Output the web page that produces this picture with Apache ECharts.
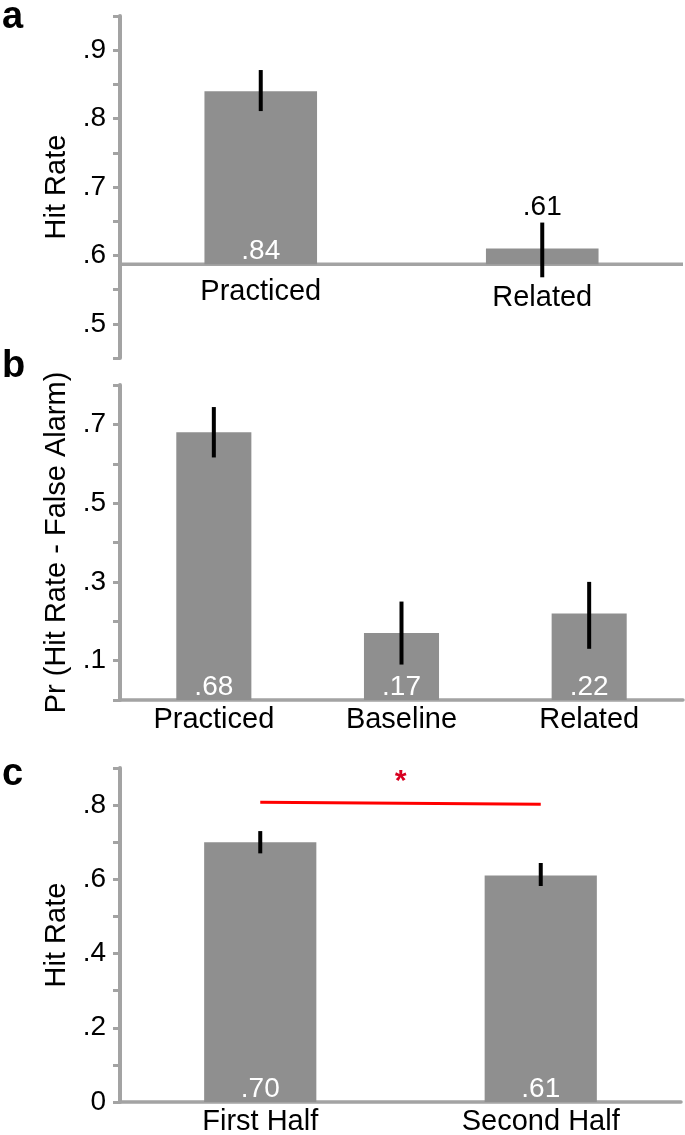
<!DOCTYPE html>
<html>
<head>
<meta charset="utf-8">
<script src="https://cdn.jsdelivr.net/npm/echarts@6/dist/echarts.min.js"></script>
<style>
html,body{margin:0;padding:0;background:#fff;}
#chart{width:685px;height:1135px;}
</style>
</head>
<body>
<div id="chart"></div>
<script>
// ---- Data ----
// Panel a
const catsA = ['Practiced', 'Related'];
const valsA = [0.84, 0.61];
const errHiA = [0.871, 0.648];
const errLoA = [0.811, 0.568];
const baseA = 0.587;
const yRangeA = [0.45, 0.95, 0.05];
// Panel b
const catsB = ['Practiced', 'Baseline', 'Related'];
const valsB = [0.68, 0.17, 0.22];
const errHiB = [0.744, 0.25, 0.30];
const errLoB = [0.616, 0.09, 0.13];
const yRangeB = [0, 0.8, 0.1];
// Panel c
const catsC = ['First Half', 'Second Half'];
const valsC = [0.70, 0.61];
const errHiC = [0.73, 0.644];
const errLoC = [0.67, 0.582];
const yRangeC = [0, 0.9, 0.1];
const sigLineC = [0.808, 0.802];
const sigMark = '*';
const panelLetters = ['a', 'b', 'c'];
const yNames = ['Hit Rate', 'Pr (Hit Rate - False Alarm)', 'Hit Rate'];

// ---- Styles ----
const FONT = "'Liberation Sans', Arial, Helvetica, sans-serif";
const axisGrey = '#a3a3a3';
const barGrey = '#8f8f8f';
const TICK_FS = 28, CAT_FS = 29, NAME_FS = 29, VAL_FS = 28;

function fmtVal(v) {
  return '.' + String(Math.round(v * 100)).padStart(2, '0');
}

function makeRender(base, drawBaseline) {
  return function (params, api) {
    const i = api.value(0), v = api.value(1), lo = api.value(2), hi = api.value(3);
    const top = api.coord([i, v]);
    const bot = api.coord([i, base]);
    const w = api.size([1, 0])[0] * 0.4;
    const eh = api.coord([i, hi]);
    const el = api.coord([i, lo]);
    const children = [];
    if (drawBaseline && params.dataIndex === 0) {
      const cs = params.coordSys;
      children.push({
        type: 'line',
        shape: { x1: cs.x, y1: bot[1], x2: cs.x + cs.width, y2: bot[1] },
        style: { stroke: axisGrey, lineWidth: 3.5 }
      });
    }
    children.push({
      type: 'rect',
      shape: { x: top[0] - w / 2, y: top[1], width: w, height: bot[1] - top[1] },
      style: { fill: barGrey }
    });
    children.push({
      type: 'line',
      shape: { x1: eh[0], y1: eh[1], x2: el[0], y2: el[1] },
      style: { stroke: '#000', lineWidth: 4 }
    });
    const inside = (bot[1] - top[1]) > 40;
    children.push({
      type: 'text',
      x: top[0],
      y: inside ? bot[1] + 1 : eh[1] - 1,
      style: {
        text: fmtVal(v),
        fill: inside ? '#fff' : '#000',
        fontSize: VAL_FS,
        fontFamily: FONT,
        align: 'center',
        verticalAlign: 'bottom'
      }
    });
    return { type: 'group', children: children };
  };
}

function yAxisFor(gridIndex, range, name, showFn) {
  return {
    type: 'value',
    gridIndex: gridIndex,
    min: range[0], max: range[1], interval: range[2],
    name: name,
    nameLocation: 'middle',
    nameGap: 49,
    nameTextStyle: { fontSize: NAME_FS, color: '#000', fontFamily: FONT },
    axisLine: { show: true, lineStyle: { color: axisGrey, width: 4 } },
    axisTick: { show: true, length: 7, lineStyle: { color: axisGrey, width: 3 } },
    splitLine: { show: false },
    axisLabel: {
      margin: 14,
      fontSize: TICK_FS, color: '#000', fontFamily: FONT,
      formatter: showFn
    }
  };
}

const chart = echarts.init(document.getElementById('chart'), null, { renderer: 'canvas' });

const option = {
  animation: false,
  backgroundColor: '#fff',
  title: panelLetters.map((t, k) => ({
    text: t,
    left: -3,
    top: [-6, 343, 751][k],
    textStyle: { fontSize: 38, fontWeight: 'bold', color: '#000', fontFamily: FONT }
  })),
  grid: [
    { left: 120, right: 2, top: 16, height: 342, outerBoundsMode: 'none' },
    { left: 120, right: 2, top: 385, height: 315, outerBoundsMode: 'none' },
    { left: 120, right: 4, top: 768, height: 334, outerBoundsMode: 'none' }
  ],
  xAxis: [
    {
      type: 'category', gridIndex: 0,
      data: catsA.map((c, k) => k === 1 ? { value: c, textStyle: { padding: [6, 0, 0, 0] } } : c),
      axisLine: { show: false }, axisTick: { show: false },
      axisLabel: { margin: -81, fontSize: CAT_FS, color: '#000', fontFamily: FONT }
    },
    {
      type: 'category', gridIndex: 1, data: catsB,
      axisLine: { show: true, lineStyle: { color: axisGrey, width: 3.5 } }, axisTick: { show: false },
      axisLabel: { margin: 5, fontSize: CAT_FS, color: '#000', fontFamily: FONT }
    },
    {
      type: 'category', gridIndex: 2, data: catsC,
      axisLine: { show: true, lineStyle: { color: axisGrey, width: 3.5 } }, axisTick: { show: false },
      axisLabel: { margin: 5, fontSize: CAT_FS, color: '#000', fontFamily: FONT }
    }
  ],
  yAxis: [
    yAxisFor(0, yRangeA, yNames[0], v => { const k = Math.round(v * 100); return k % 10 === 0 ? '.' + (k / 10) : ''; }),
    yAxisFor(1, yRangeB, yNames[1], v => { const k = Math.round(v * 10); return k % 2 === 1 ? '.' + k : ''; }),
    yAxisFor(2, yRangeC, yNames[2], v => { const k = Math.round(v * 10); return k % 2 === 0 ? (k === 0 ? '0' : '.' + k) : ''; })
  ],
  series: [
    {
      type: 'custom', xAxisIndex: 0, yAxisIndex: 0, clip: false,
      renderItem: makeRender(baseA, true),
      encode: { x: 0, y: 1 },
      data: catsA.map((c, k) => [k, valsA[k], errLoA[k], errHiA[k]])
    },
    {
      type: 'custom', xAxisIndex: 1, yAxisIndex: 1, clip: false,
      renderItem: makeRender(0, false),
      encode: { x: 0, y: 1 },
      data: catsB.map((c, k) => [k, valsB[k], errLoB[k], errHiB[k]])
    },
    {
      type: 'custom', xAxisIndex: 2, yAxisIndex: 2, clip: false,
      renderItem: makeRender(0, false),
      encode: { x: 0, y: 1 },
      data: catsC.map((c, k) => [k, valsC[k], errLoC[k], errHiC[k]])
    },
    {
      type: 'line', xAxisIndex: 2, yAxisIndex: 2,
      data: [],
      markLine: {
        silent: true,
        symbol: 'none',
        lineStyle: { color: '#ff0000', width: 3, type: 'solid' },
        label: {
          show: true, position: 'middle', formatter: sigMark,
          color: '#d80020', fontSize: 30, fontWeight: 'bold', fontFamily: FONT, distance: 6
        },
        data: [[
          { coord: [catsC[0], sigLineC[0]] },
          { coord: [catsC[1], sigLineC[1]] }
        ]]
      }
    }
  ]
};

chart.setOption(option);
</script>
</body>
</html>
